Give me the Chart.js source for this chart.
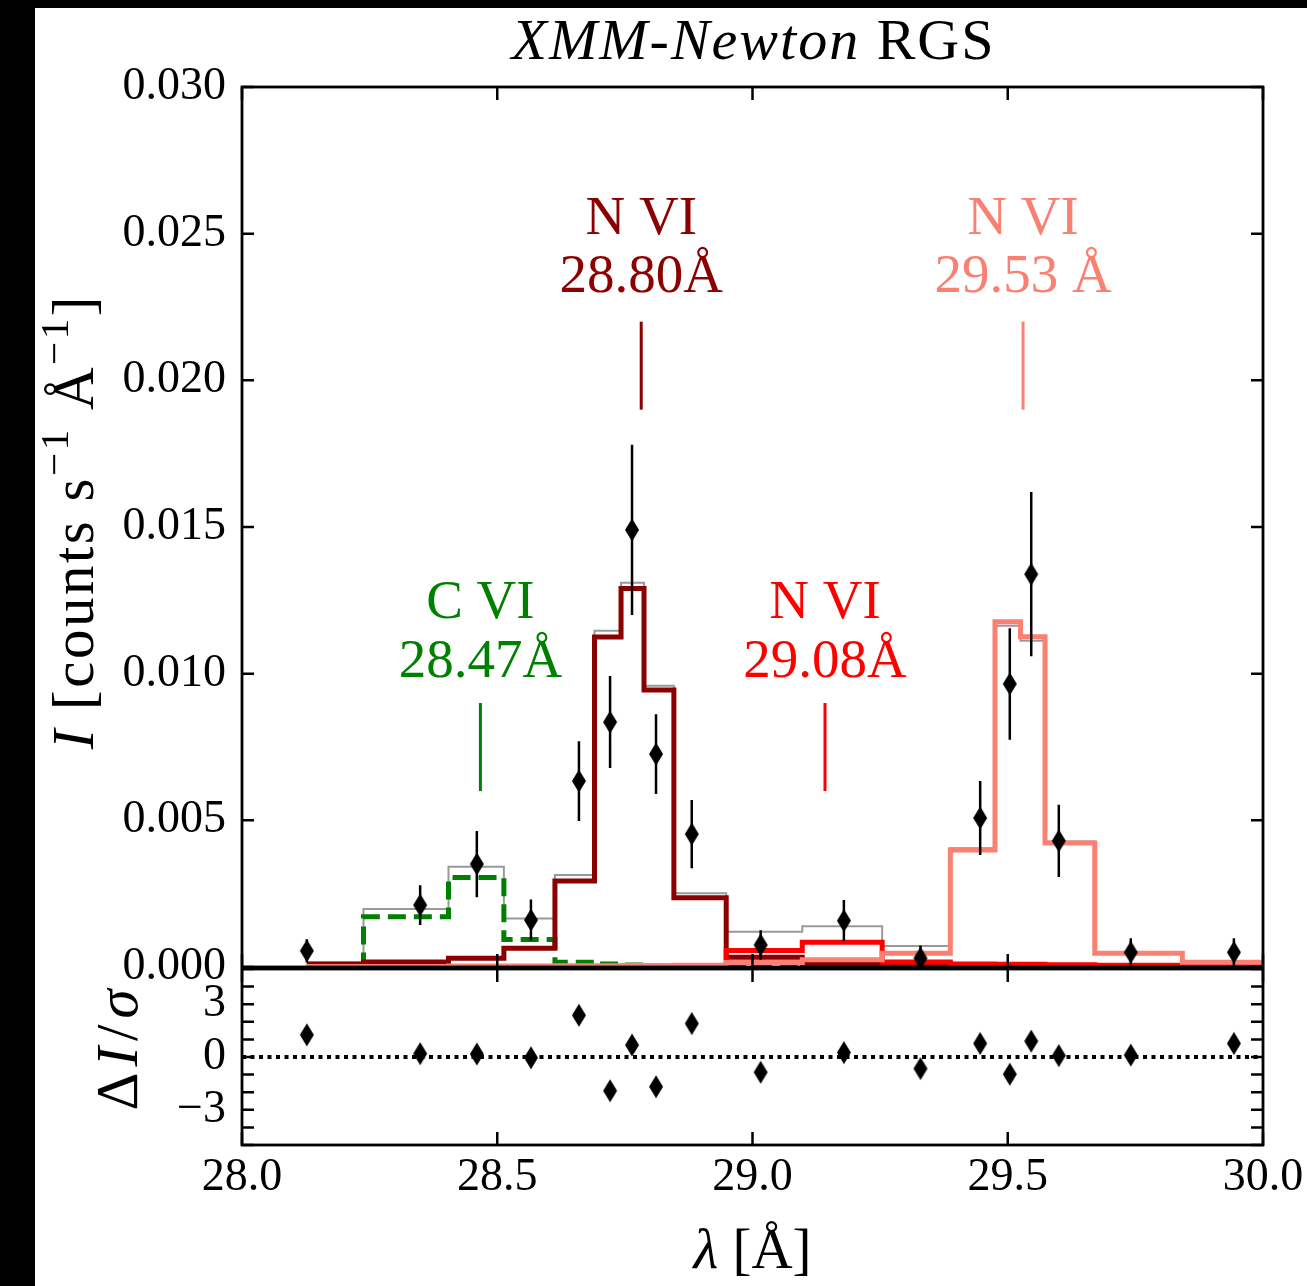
<!DOCTYPE html>
<html><head><meta charset="utf-8">
<script src="https://cdn.jsdelivr.net/npm/chart.js@4"></script>
<style>
html,body{margin:0;padding:0;background:#000;width:1307px;height:1286px;overflow:hidden}
#wrap{position:absolute;left:35px;top:8px;width:1272px;height:1278px;background:#fff}
canvas{position:absolute;left:0}
#c1{top:0}
#c2{top:960px}
</style></head><body>
<div id="wrap"></div>
<canvas id="c1" width="1307" height="1000"></canvas>
<canvas id="c2" width="1307" height="326"></canvas>
<script>
// ---------- data ----------
const wavelength = [28.127, 28.349, 28.460, 28.566, 28.660, 28.721, 28.764, 28.811, 28.881, 29.016, 29.179, 29.329, 29.446, 29.504, 29.546, 29.600, 29.741, 29.943];
const flux       = [0.00055, 0.00211, 0.00351, 0.00160, 0.00634, 0.00835, 0.01490, 0.00726, 0.00453, 0.00075, 0.00158, 0.00030, 0.00508, 0.00965, 0.01339, 0.00430, 0.00050, 0.00050];
const fluxErr    = [0.00040, 0.00068, 0.00113, 0.00070, 0.00136, 0.00157, 0.00290, 0.00136, 0.00116, 0.00050, 0.00070, 0.00043, 0.00126, 0.00190, 0.00280, 0.00123, 0.00048, 0.00048];
const residual   = [1.26, 0.19, 0.17, -0.04, 2.37, -1.92, 0.68, -1.69, 1.90, -0.87, 0.25, -0.66, 0.77, -0.98, 0.90, 0.08, 0.11, 0.77];

// model bins (last bin lies beyond the plotted range)
const modelWavelength = [28.127, 28.349, 28.460, 28.566, 28.660, 28.721, 28.764, 28.811, 28.881, 29.016, 29.179, 29.329, 29.446, 29.504, 29.546, 29.600, 29.741, 29.943, 30.150];
const modelTotal = [0.00015, 0.00198, 0.00342, 0.00165, 0.00314, 0.01146, 0.01310, 0.00959, 0.00251, 0.00120, 0.00139, 0.00072, 0.00405, 0.01163, 0.01112, 0.00428, 0.00050, 0.00017, 0.00017];
const modelCVI   = [0.00004, 0.00171, 0.00305, 0.00094, 0.00016, 0.00010, 0.00007, 0.00005, 0.00004, 0.00003, 0.00003, 0.00002, 0.00002, 0.00001, 0.00001, 0.00001, 0.00001, 0.00001, 0.00001];
const modelNVI2880 = [0.00010, 0.00017, 0.00030, 0.00064, 0.00293, 0.01125, 0.01290, 0.00944, 0.00236, 0.00033, 0.00012, 0.00008, 0.00006, 0.00005, 0.00004, 0.00004, 0.00003, 0.00003, 0.00003];
const modelNVI2908 = [0.00001, 0.00001, 0.00001, 0.00002, 0.00002, 0.00002, 0.00003, 0.00003, 0.00004, 0.00056, 0.00084, 0.00017, 0.00010, 0.00009, 0.00009, 0.00008, 0.00006, 0.00005, 0.00005];
const modelNVI2953 = [0.00002, 0.00002, 0.00003, 0.00003, 0.00004, 0.00004, 0.00005, 0.00005, 0.00006, 0.00015, 0.00025, 0.00047, 0.00399, 0.01177, 0.01126, 0.00423, 0.00047, 0.00016, 0.00014];

// line identifications
const ionLabels   = ['C VI', 'N VI', 'N VI', 'N VI'];
const waveLabels  = ['28.47Å', '28.80Å', '29.08Å', '29.53 Å'];
const markX       = [28.467, 28.782, 29.142, 29.530];
const markLow     = [0.0060, 0.0190, 0.0060, 0.0190];
const markHigh    = [0.0090, 0.0220, 0.0090, 0.0220];
const ionLabelY   = [0.0119, 0.0250, 0.0119, 0.0250];
const waveLabelY  = [0.0099, 0.0230, 0.0099, 0.0230];

// tick values
const xTicks = [28.0, 28.5, 29.0, 29.5, 30.0];
const yTicks = [0.000, 0.005, 0.010, 0.015, 0.020, 0.025, 0.030];
const rTicks = [-5, -4, -3, -2, -1, 0, 1, 2, 3, 4, 5];
const rTickLabels = {'-3': '\u22123', '0': '0', '3': '3'};

// ---------- styles ----------
const FONT = "'Liberation Serif', 'DejaVu Serif', serif";
const markColors = ['#008000', '#8b0000', '#ff0000', '#fa8072'];

function diamond() {
  const c = document.createElement('canvas');
  c.width = 16; c.height = 26;
  const g = c.getContext('2d');
  g.fillStyle = '#000';
  g.beginPath();
  g.moveTo(8, 1.5); g.lineTo(15, 13); g.lineTo(8, 24.5); g.lineTo(1, 13); g.closePath();
  g.fill();
  return c;
}
const DIA = diamond();

function pts(xs, ys) { return xs.map((x, i) => ({x: x, y: ys[i]})); }

function fontOf(s, size) { return (s.it ? 'italic ' : '') + Math.round(s.sup ? size * 0.7 : size) + 'px ' + FONT; }
// rich text with manual letter spacing, centred on (cx, cy) on the baseline
function drawRich(ctx, segs, cx, cy, size, rot, ls, color) {
  ls = ls || 0;
  ctx.save();
  ctx.translate(cx, cy);
  if (rot) ctx.rotate(rot);
  ctx.fillStyle = color || '#000';
  ctx.textBaseline = 'alphabetic';
  ctx.textAlign = 'left';
  const items = [];
  let total = 0;
  for (const s of segs) {
    ctx.font = fontOf(s, size);
    for (const ch of Array.from(s.t)) {
      const w = ctx.measureText(ch).width;
      items.push({ch: ch, w: w, s: s});
      total += w + ls;
    }
  }
  total -= ls;
  let x = -total / 2;
  for (const it of items) {
    ctx.font = fontOf(it.s, size);
    ctx.fillText(it.ch, x, it.s.sup ? -size * 0.42 : 0);
    x += it.w + ls;
  }
  ctx.restore();
}

function frameAndTicks(chart, xv, yv) {
  const {ctx, chartArea: a, scales: {x, y}} = chart;
  ctx.save();
  ctx.strokeStyle = '#000';
  ctx.lineWidth = 2.5;
  ctx.beginPath();
  for (const v of xv) {
    const px = x.getPixelForValue(v);
    ctx.moveTo(px, a.bottom); ctx.lineTo(px, a.bottom - 13);
    ctx.moveTo(px, a.top); ctx.lineTo(px, a.top + 13);
  }
  for (const v of yv) {
    const py = y.getPixelForValue(v);
    ctx.moveTo(a.left, py); ctx.lineTo(a.left + 12, py);
    ctx.moveTo(a.right, py); ctx.lineTo(a.right - 12, py);
  }
  ctx.stroke();
  ctx.lineWidth = 2.8;
  ctx.strokeRect(a.left, a.top, a.right - a.left, a.bottom - a.top);
  ctx.restore();
}

function fixY(w) { return function (s) { s.width = w; s.paddingTop = 0; s.paddingBottom = 0; }; }
function fixX(h) { return function (s) { s.height = h; s.paddingLeft = 0; s.paddingRight = 0; }; }

// ---------- top panel ----------
const errData = [];
wavelength.forEach((w, i) => {
  errData.push({x: w, y: flux[i] - fluxErr[i]});
  errData.push({x: w, y: flux[i] + fluxErr[i]});
  errData.push({x: w, y: null});
});

const stepLine = (label, ys, color, width, order, dash) => ({
  label: label, data: pts(modelWavelength, ys), borderColor: color, borderWidth: width,
  stepped: 'middle', pointRadius: 0, fill: false, order: order, clip: 0,
  borderDash: dash || [], borderJoinStyle: 'miter', borderCapStyle: 'butt'
});

const markDatasets = markX.map((mx, i) => ({
  label: 'mark' + i,
  data: [{x: mx, y: markLow[i]}, {x: mx, y: markHigh[i]}],
  borderColor: markColors[i], borderWidth: 3, pointRadius: 0, order: 8
}));

const topPlugin = {
  id: 'topdeco',
  afterDatasetsDraw(chart) {
    const {ctx, scales: {x, y}} = chart;
    frameAndTicks(chart, xTicks, y.ticks.map(t => t.value));
    // identifications text
    ctx.save();
    ctx.textAlign = 'center';
    ctx.textBaseline = 'alphabetic';
    ctx.font = '55px ' + FONT;
    markX.forEach((mx, i) => {
      ctx.fillStyle = markColors[i];
      const px = x.getPixelForValue(mx);
      ctx.fillText(ionLabels[i], px, y.getPixelForValue(ionLabelY[i]));
      ctx.fillText(waveLabels[i], px, y.getPixelForValue(waveLabelY[i]));
    });
    ctx.restore();
    // title
    drawRich(ctx, [{t: 'XMM-Newton', it: true}, {t: ' RGS'}], (chart.chartArea.left + chart.chartArea.right) / 2, 59, 58, 0, 2);
    // y label
    drawRich(ctx, [{t: 'I', it: true}, {t: ' [counts s'}, {t: '\u22121', sup: true}, {t: ' Å'}, {t: '\u22121', sup: true}, {t: ']'}], 93, 523, 59, -Math.PI / 2, 2.5);
  }
};

new Chart(document.getElementById('c1'), {
  type: 'line',
  data: {
    datasets: [
      {label: 'data', data: pts(wavelength, flux), showLine: false, pointStyle: DIA, pointRadius: 8, order: 0},
      {label: 'err', data: errData, borderColor: '#000', borderWidth: 2.5, pointRadius: 0, spanGaps: false, order: 1},
      stepLine('N VI 29.53', modelNVI2953, '#fa8072', 5, 2),
      stepLine('N VI 29.08', modelNVI2908, '#ff0000', 5, 3),
      stepLine('N VI 28.80', modelNVI2880, '#8b0000', 5, 4),
      stepLine('C VI', modelCVI, '#008000', 5, 5, [18, 8]),
      stepLine('total', modelTotal, '#999999', 2, 6),
      ...markDatasets
    ]
  },
  options: {
    responsive: false, animation: false, events: [],
    layout: {padding: {top: 87, right: 44, bottom: 33, left: 0}, autoPadding: false},
    plugins: {legend: {display: false}, tooltip: {enabled: false}},
    scales: {
      x: {type: 'linear', min: 28, max: 30, display: false, afterFit: fixX(0)},
      y: {
        type: 'linear', min: 0, max: 0.03,
        afterBuildTicks: s => { s.ticks = yTicks.map(v => ({value: v})); },
        ticks: {callback: v => v.toFixed(3), font: {family: FONT, size: 46}, color: '#000', padding: 16},
        grid: {display: false, drawTicks: false}, border: {display: false},
        afterFit: fixY(242)
      }
    }
  },
  plugins: [topPlugin]
});

// ---------- residual panel ----------
const resPlugin = {
  id: 'resdeco',
  afterDatasetsDraw(chart) {
    const {ctx} = chart;
    frameAndTicks(chart, xTicks, rTicks);
    drawRich(ctx, [{t: 'Δ'}, {t: 'I', it: true}, {t: '/'}, {t: 'σ', it: true}], 137, 90, 59, -Math.PI / 2, 6);
    drawRich(ctx, [{t: 'λ', it: true}, {t: ' [Å]'}], (chart.chartArea.left + chart.chartArea.right) / 2, 308, 57, 0, 0);
  }
};

new Chart(document.getElementById('c2'), {
  type: 'line',
  data: {
    datasets: [
      {label: 'resid', data: pts(wavelength, residual), showLine: false, pointStyle: DIA, pointRadius: 8, order: 0},
      {label: 'zero', data: [{x: 28, y: 0}, {x: 30, y: 0}], borderColor: '#000', borderWidth: 4, borderDash: [4, 4.5], pointRadius: 0, order: 1}
    ]
  },
  options: {
    responsive: false, animation: false, events: [],
    layout: {padding: {top: 9, right: 44, bottom: 0, left: 0}, autoPadding: false},
    plugins: {legend: {display: false}, tooltip: {enabled: false}},
    scales: {
      x: {
        type: 'linear', min: 28, max: 30,
        afterBuildTicks: s => { s.ticks = xTicks.map(v => ({value: v})); },
        ticks: {callback: v => v.toFixed(1), font: {family: FONT, size: 46}, color: '#000', padding: 5, maxRotation: 0, autoSkip: false},
        grid: {display: false, drawTicks: false}, border: {display: false},
        afterFit: fixX(141)
      },
      y: {
        type: 'linear', min: -5, max: 5,
        afterBuildTicks: s => { s.ticks = rTicks.map(v => ({value: v})); },
        ticks: {callback: v => (rTickLabels[String(v)] || ''), font: {family: FONT, size: 46}, color: '#000', padding: 16, autoSkip: false},
        grid: {display: false, drawTicks: false}, border: {display: false},
        afterFit: fixY(242)
      }
    }
  },
  plugins: [resPlugin]
});
</script>
</body></html>
